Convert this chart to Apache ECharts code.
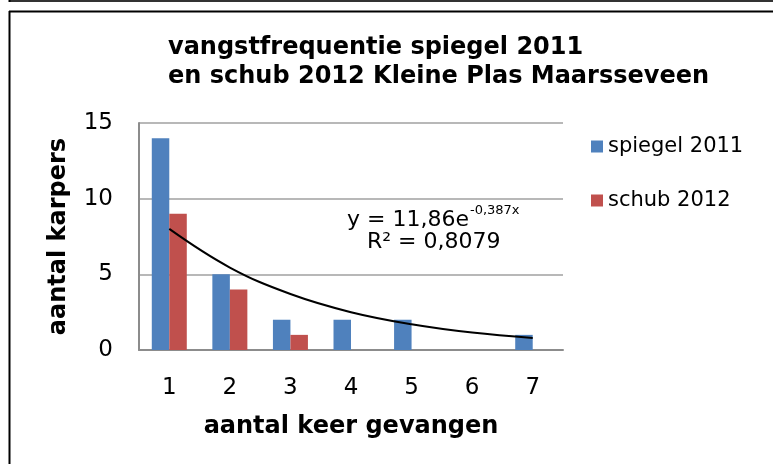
<!DOCTYPE html>
<html>
<head>
<meta charset="utf-8">
<script src="https://cdn.jsdelivr.net/npm/echarts@6/dist/echarts.min.js"></script>
<style>
html,body{margin:0;padding:0;background:#fff;}
#main{width:773px;height:464px;}
</style>
</head>
<body>
<div id="main"></div>
<script>
// data
var categories = ['1', '2', '3', '4', '5', '6', '7'];
var spiegel2011 = [14, 5, 2, 2, 2, 0, 1];
var schub2012 = [9, 4, 1, 0, 0, 0, 0];
var trendline = [8.0, 5.45, 3.7, 2.5, 1.7, 1.15, 0.8];
var yTicks = [0, 5, 10, 15];

var boldFont = '"DejaVu Sans", Verdana, sans-serif';
var textFont = '"DejaVu Sans", Verdana, sans-serif';

var option = {
    animation: false,
    backgroundColor: '#fff',
    title: {
        text: 'vangstfrequentie spiegel 2011\nen schub 2012 Kleine Plas Maarsseveen',
        left: 163, top: 28,
        textStyle: {fontFamily: boldFont, fontWeight: 'bold', fontSize: 24, color: '#000', lineHeight: 29}
    },
    grid: {left: 139, right: 210, top: 123, bottom: 114},
    legend: {
        orient: 'vertical',
        left: 586, top: 131,
        icon: 'rect',
        itemWidth: 12, itemHeight: 12, itemGap: 33,
        data: ['spiegel 2011', 'schub 2012'],
        textStyle: {fontFamily: textFont, fontSize: 21, color: '#000'}
    },
    xAxis: {
        type: 'category',
        data: categories,
        name: 'aantal keer gevangen',
        nameLocation: 'middle',
        nameGap: 65,
        nameTextStyle: {fontFamily: boldFont, fontWeight: 'bold', fontSize: 24, color: '#000'},
        axisLine: {lineStyle: {color: '#8c8c8c', width: 2}},
        axisTick: {show: false},
        axisLabel: {margin: 27, fontFamily: textFont, fontSize: 23, color: '#000'}
    },
    yAxis: {
        type: 'value',
        min: yTicks[0], max: yTicks[yTicks.length - 1], interval: 5,
        name: 'aantal karpers',
        nameLocation: 'middle',
        nameGap: 68,
        nameTextStyle: {fontFamily: boldFont, fontWeight: 'bold', fontSize: 24, color: '#000'},
        axisLine: {show: true, lineStyle: {color: '#8c8c8c', width: 2}},
        axisTick: {show: false},
        axisLabel: {margin: 26, fontFamily: textFont, fontSize: 23, color: '#000'},
        splitLine: {show: true, lineStyle: {color: '#a0a0a0', width: 1.5}}
    },
    series: [
        {
            name: 'spiegel 2011',
            type: 'bar',
            data: spiegel2011,
            barWidth: 17.5,
            barGap: '0%',
            itemStyle: {color: '#4f81bd'}
        },
        {
            name: 'schub 2012',
            type: 'bar',
            data: schub2012,
            barWidth: 17.5,
            itemStyle: {color: '#c0504d'}
        },
        {
            name: 'trend',
            type: 'line',
            data: trendline,
            smooth: 0.4,
            symbol: 'none',
            z: 5,
            lineStyle: {color: '#000', width: 2}
        }
    ],
    graphic: [
        // kader
        {type: 'line', shape: {x1: 9, y1: 1, x2: 773, y2: 1}, style: {stroke: '#333', lineWidth: 2}},
        {type: 'line', shape: {x1: 9, y1: 11.5, x2: 773, y2: 11.5}, style: {stroke: '#000', lineWidth: 2}},
        {type: 'line', shape: {x1: 9.5, y1: 11, x2: 9.5, y2: 464}, style: {stroke: '#000', lineWidth: 2}},
        {type: 'line', shape: {x1: 9.5, y1: 0, x2: 9.5, y2: 2}, style: {stroke: '#000', lineWidth: 2}},
        // trendlijn vergelijking
        {
            type: 'text', left: 347, top: 204,
            style: {
                text: '{a|y = 11,86e}{b|-0,387x}',
                rich: {
                    a: {fontFamily: textFont, fontSize: 22, fill: '#000', verticalAlign: 'bottom', lineHeight: 27},
                    b: {fontFamily: textFont, fontSize: 13, fill: '#000', verticalAlign: 'top', lineHeight: 27, padding: [0, 0, 12, 1]}
                }
            }
        },
        {
            type: 'text', left: 367, top: 231,
            style: {text: 'R² = 0,8079', fontFamily: textFont, fontSize: 22, fill: '#000'}
        }
    ]
};

var myChart = echarts.init(document.getElementById('main'), null, {renderer: 'canvas'});
myChart.setOption(option);
</script>
</body>
</html>
